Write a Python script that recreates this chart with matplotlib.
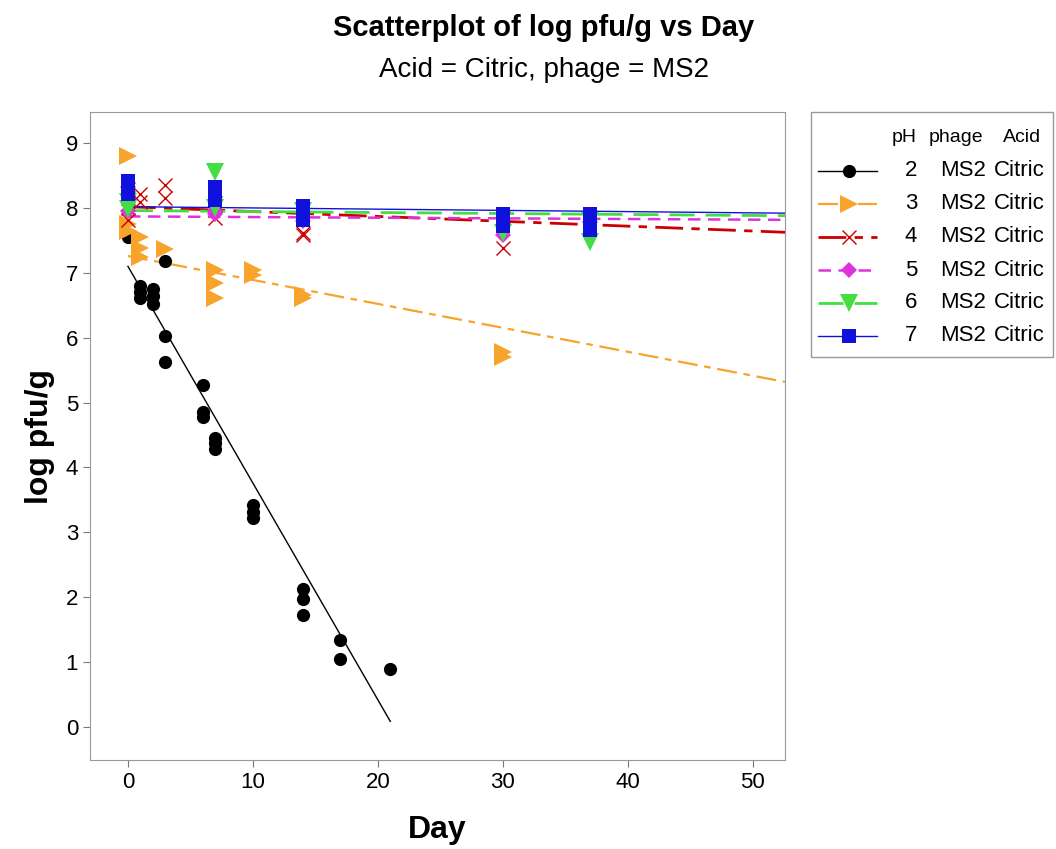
import matplotlib
matplotlib.use("Agg")
import matplotlib.pyplot as plt
from matplotlib.lines import Line2D
from matplotlib.patches import Rectangle
import numpy as np

plt.rcParams['font.family'] = ['Liberation Sans', 'DejaVu Sans']

# --- data ---
ph_levels = [2, 3, 4, 5, 6, 7]

day_ph2 = [0, 0, 1, 1, 1, 2, 2, 2, 3, 3, 3, 6, 6, 6, 7, 7, 7, 10, 10, 10, 14, 14, 14, 17, 17, 21]
log_ph2 = [7.6, 7.55, 6.8, 6.7, 6.62, 6.75, 6.65, 6.52, 7.18, 6.02, 5.62, 5.27, 4.85, 4.78,
           4.45, 4.38, 4.28, 3.42, 3.32, 3.22, 2.12, 1.98, 1.72, 1.34, 1.05, 0.89]

day_ph3 = [0, 0, 0, 1, 1, 1, 3, 7, 7, 7, 10, 10, 14, 14, 30, 30]
log_ph3 = [8.8, 7.75, 7.65, 7.55, 7.38, 7.25, 7.37, 7.05, 6.85, 6.62, 7.05, 6.97, 6.66, 6.62, 5.78, 5.7]

day_ph4 = [0, 0, 0, 0, 1, 1, 3, 3, 7, 7, 14, 14, 30, 30]
log_ph4 = [8.3, 8.15, 8.0, 7.82, 8.22, 8.1, 8.36, 8.15, 8.08, 7.85, 7.62, 7.58, 7.86, 7.38]

day_ph5 = [0, 0, 7, 7, 14, 30, 37]
log_ph5 = [8.32, 7.95, 7.95, 7.9, 7.8, 7.58, 7.78]

day_ph6 = [0, 0, 7, 7, 14, 30, 37, 37]
log_ph6 = [8.1, 7.98, 8.55, 8.0, 7.95, 7.62, 7.47, 7.8]

day_ph7 = [0, 0, 7, 7, 14, 14, 30, 30, 37, 37, 37]
log_ph7 = [8.42, 8.22, 8.33, 8.13, 8.03, 7.82, 7.9, 7.72, 7.9, 7.75, 7.66]

# fitted lines (intercept, slope, last day drawn)
fit_intercept = [7.1, 7.26, 8.02, 7.87, 7.96, 8.02]
fit_slope = [-0.334, -0.0369, -0.0075, -0.0010, -0.0015, -0.0019]
fit_end = [21, 52.6, 52.6, 52.6, 52.6, 52.6]

days = [day_ph2, day_ph3, day_ph4, day_ph5, day_ph6, day_ph7]
logs = [log_ph2, log_ph3, log_ph4, log_ph5, log_ph6, log_ph7]

colors = ['black', '#F8A32B', '#CC0000', '#DD33DD', '#44DD44', '#1111DD']
markers = ['o', '>', 'x', 'D', 'v', 's']
msizes = [9.5, 13, 10, 8.5, 12.5, 10]
lstyles = ['-', (0, (9, 3, 3, 3)), (0, (10, 3, 3, 3)), (0, (5, 3)), (0, (9, 4)), '-']
lwidths = [1.0, 1.6, 2.0, 1.8, 2.0, 1.0]

fig = plt.figure(figsize=(10.56, 8.49), dpi=100)
ax = fig.add_axes([0.0852, 0.1048, 0.6582, 0.7633])

for i in range(len(ph_levels)):
    xs = np.array([0, fit_end[i]])
    ax.plot(xs, fit_intercept[i] + fit_slope[i] * xs, color=colors[i],
            linestyle=lstyles[i], linewidth=lwidths[i], zorder=2)
for i in range(len(ph_levels)):
    if markers[i] == 'x':
        ax.plot(days[i], logs[i], linestyle='none', marker='x', color=colors[i],
                markersize=msizes[i], markeredgewidth=1.0, zorder=3)
    else:
        ax.plot(days[i], logs[i], linestyle='none', marker=markers[i], color=colors[i],
                markersize=msizes[i], markeredgewidth=0, zorder=3)

ax.set_xlim(-3.04, 52.6)
ax.set_ylim(-0.51, 9.48)
ax.set_xticks([0, 10, 20, 30, 40, 50])
ax.set_yticks(range(10))
ax.tick_params(labelsize=16, length=5, color='#777777')
for s in ax.spines.values():
    s.set_color('#999999')
ax.set_xlabel('Day', fontsize=23, fontweight='bold', labelpad=16)
ax.set_ylabel('log pfu/g', fontsize=23, fontweight='bold', labelpad=8)

fig.text(0.515, 0.967, 'Scatterplot of log pfu/g vs Day', ha='center', va='center',
         fontsize=21, fontweight='bold')
fig.text(0.515, 0.918, 'Acid = Citric, phage = MS2', ha='center', va='center', fontsize=20)

# legend table
W, H = 1056.0, 849.0
fig.add_artist(Rectangle((811 / W, 1 - 357 / H), (1053 - 811) / W, (357 - 112) / H,
                         transform=fig.transFigure, facecolor='white',
                         edgecolor='#999999', linewidth=1))
fig.text(917 / W, 1 - 138 / H, 'pH', ha='right', va='center', fontsize=14)
fig.text(956 / W, 1 - 138 / H, 'phage', ha='center', va='center', fontsize=14)
fig.text(1022 / W, 1 - 138 / H, 'Acid', ha='center', va='center', fontsize=14)
row_y = [171, 204, 237, 270, 303, 336]
for i in range(len(ph_levels)):
    yy = 1 - row_y[i] / H
    fig.add_artist(Line2D([818 / W, 877 / W], [yy, yy], transform=fig.transFigure,
                          color=colors[i], linestyle=lstyles[i], linewidth=lwidths[i]))
    fig.add_artist(Line2D([849 / W], [yy], transform=fig.transFigure, color=colors[i],
                          marker=markers[i], markersize=msizes[i],
                          markeredgewidth=1.0 if markers[i] == 'x' else 0))
    fig.text(917 / W, yy, str(ph_levels[i]), ha='right', va='center', fontsize=16)
    fig.text(963 / W, yy, 'MS2', ha='center', va='center', fontsize=16)
    fig.text(1019 / W, yy, 'Citric', ha='center', va='center', fontsize=16)

fig.savefig('out.png', dpi=100, facecolor='white')
